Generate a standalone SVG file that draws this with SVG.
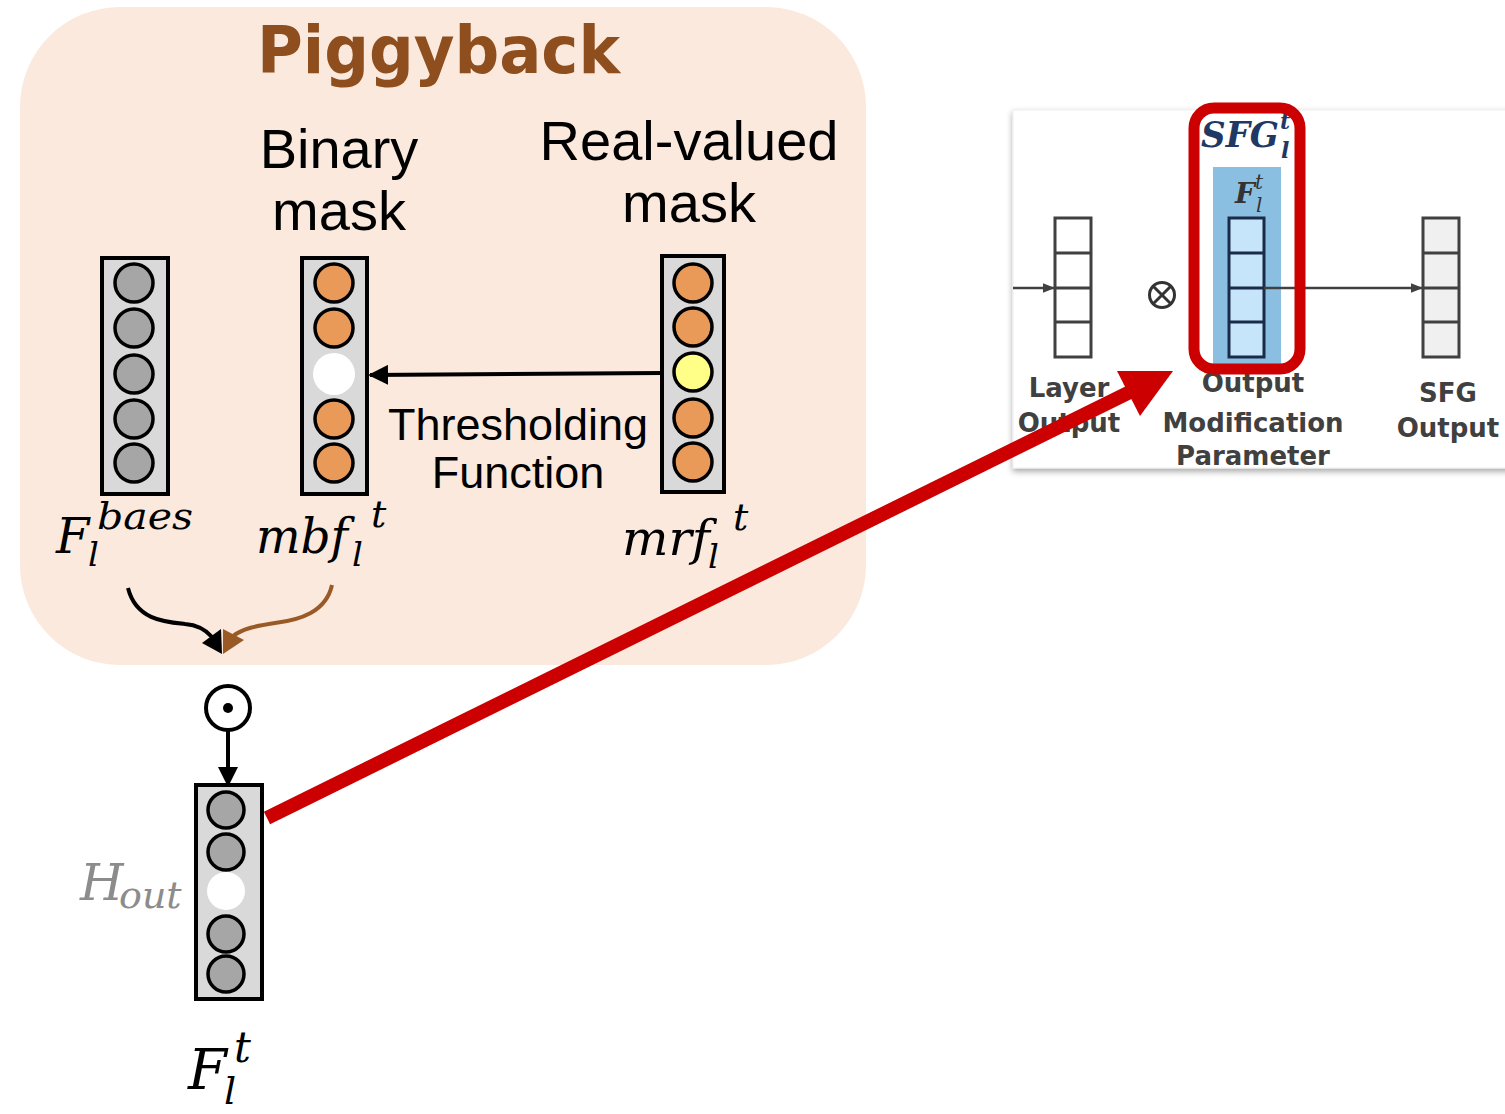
<svg xmlns="http://www.w3.org/2000/svg" width="1505" height="1114" viewBox="0 0 1505 1114">
<style>
.col{fill:#D9D9D9;stroke:#000;stroke-width:4}
.g{fill:#A6A6A6;stroke:#000;stroke-width:3.5}
.o{fill:#E99A58;stroke:#000;stroke-width:3.5}
.y{fill:#FFFF88;stroke:#000;stroke-width:3.5}
.w{fill:#FFFFFF}
.lbl{font-family:"Liberation Sans",Arial,sans-serif;fill:#000}
.math{font-family:"DejaVu Serif",serif;font-style:italic;fill:#000}
.pl{font-family:"DejaVu Sans",Verdana,sans-serif;font-weight:bold;fill:#404040;font-size:26px;text-anchor:middle}
.cell{fill:none;stroke:#404040;stroke-width:3}
.ncell{fill:none;stroke:#1A2B4A;stroke-width:3}
.sfg{font-family:"DejaVu Serif",serif;font-style:italic;font-weight:bold;fill:#1F3864}
.fi{font-family:"DejaVu Serif",serif;font-style:italic;fill:#333}
</style>
<defs>
<marker id="ahB" viewBox="0 0 10 10" refX="9" refY="5" markerWidth="20" markerHeight="20" markerUnits="userSpaceOnUse" orient="auto"><path d="M0,0 L10,5 L0,10 z" fill="#000"/></marker>
<marker id="ahS" viewBox="0 0 10 10" refX="10" refY="5" markerWidth="12" markerHeight="12" markerUnits="userSpaceOnUse" orient="auto"><path d="M0,1 L10,5 L0,9 z" fill="#404040"/></marker>
<filter id="sh" x="-5%" y="-5%" width="110%" height="115%"><feDropShadow dx="0" dy="3" stdDeviation="3" flood-color="#000" flood-opacity="0.35"/></filter>
</defs>

<g id="piggyback">
<rect x="20" y="7" width="846" height="658" rx="100" ry="100" fill="#FAE9DC"/>
<text x="257" y="73" font-family="'DejaVu Sans',Verdana,sans-serif" font-weight="bold" font-size="66" fill="#8E4E1E" textLength="363" lengthAdjust="spacingAndGlyphs">Piggyback</text>
<text class="lbl" x="339" y="168" font-size="56" text-anchor="middle">Binary</text>
<text class="lbl" x="339" y="230" font-size="56" text-anchor="middle">mask</text>
<text class="lbl" x="689" y="160" font-size="56" text-anchor="middle">Real-valued</text>
<text class="lbl" x="689" y="222" font-size="56" text-anchor="middle">mask</text>
<text class="lbl" x="518" y="440" font-size="45" text-anchor="middle">Thresholding</text>
<text class="lbl" x="518" y="488" font-size="45" text-anchor="middle">Function</text>
</g>

<g id="base-col">
<rect class="col" x="102" y="258" width="66" height="236"/>
<circle class="g" cx="134" cy="283" r="19"/>
<circle class="g" cx="134" cy="328" r="19"/>
<circle class="g" cx="134" cy="374" r="19"/>
<circle class="g" cx="134" cy="419" r="19"/>
<circle class="g" cx="134" cy="463" r="19"/>
<text class="math" x="56" y="553" font-size="48">F</text>
<text class="math" x="88" y="566" font-size="34">l</text>
<text class="math" x="97" y="529" font-size="38" textLength="96" lengthAdjust="spacingAndGlyphs">baes</text>
</g>

<g id="binary-col">
<rect class="col" x="302" y="258" width="65" height="236"/>
<circle class="o" cx="334" cy="283" r="19"/>
<circle class="o" cx="334" cy="328" r="19"/>
<circle class="w" cx="334" cy="374" r="21"/>
<circle class="o" cx="334" cy="419" r="19"/>
<circle class="o" cx="334" cy="463" r="19"/>
<text class="math" x="256" y="553" font-size="48" textLength="92" lengthAdjust="spacingAndGlyphs">mbf</text>
<text class="math" x="352" y="566" font-size="34">l</text>
<text class="math" x="371" y="527" font-size="38">t</text>
</g>

<g id="real-col">
<rect class="col" x="662" y="256" width="62" height="236"/>
<circle class="o" cx="693" cy="283" r="19"/>
<circle class="o" cx="693" cy="327" r="19"/>
<circle class="y" cx="693" cy="372" r="19"/>
<circle class="o" cx="693" cy="418" r="19"/>
<circle class="o" cx="693" cy="462" r="19"/>
<text class="math" x="622" y="555" font-size="48" textLength="88" lengthAdjust="spacingAndGlyphs">mrf</text>
<text class="math" x="708" y="568" font-size="34">l</text>
<text class="math" x="733" y="530" font-size="38">t</text>
</g>

<g id="odot">
<circle cx="228" cy="708" r="22" fill="#fff" stroke="#000" stroke-width="4"/>
<circle cx="228" cy="708" r="5" fill="#000"/>
</g>

<g id="out-col">
<rect class="col" x="196" y="785" width="66" height="214"/>
<circle class="g" cx="226" cy="810" r="18"/>
<circle class="g" cx="226" cy="852" r="18"/>
<circle class="w" cx="226" cy="891" r="19"/>
<circle class="g" cx="226" cy="934" r="18"/>
<circle class="g" cx="226" cy="974" r="18"/>
<text class="math" x="80" y="900" font-size="50" style="fill:#8C8C8C">H</text>
<text class="math" x="119" y="908" font-size="38" style="fill:#8C8C8C">out</text>
<text class="math" x="188" y="1089" font-size="56">F</text>
<text class="math" x="224" y="1104" font-size="38">l</text>
<text class="math" x="234" y="1062" font-size="42">t</text>
</g>

<g id="sfg-panel">
<rect x="1013" y="110" width="500" height="358" fill="#fff" stroke="#EEEEEE" stroke-width="1" filter="url(#sh)"/>
</g>
<g id="layer-output">
<rect x="1055" y="218" width="36" height="139" fill="#fff" stroke="#404040" stroke-width="3"/>
<line class="cell" x1="1055" y1="253" x2="1091" y2="253"/>
<line class="cell" x1="1055" y1="288" x2="1091" y2="288"/>
<line class="cell" x1="1055" y1="322" x2="1091" y2="322"/>
<text class="pl" x="1069" y="397">Layer</text>
<text class="pl" x="1069" y="432">Output</text>
</g>
<g id="otimes">
<circle cx="1162" cy="295" r="12.5" fill="none" stroke="#333" stroke-width="3"/>
<line x1="1153" y1="286" x2="1171" y2="304" stroke="#333" stroke-width="3"/>
<line x1="1171" y1="286" x2="1153" y2="304" stroke="#333" stroke-width="3"/>
</g>
<g id="omp">
<rect x="1213" y="167" width="68" height="202" fill="#8BBFE2"/>
<rect x="1229" y="218" width="35" height="139" fill="#C6E4FA" stroke="#1A2B4A" stroke-width="3"/>
<line class="ncell" x1="1229" y1="253" x2="1264" y2="253"/>
<line class="ncell" x1="1229" y1="288" x2="1264" y2="288"/>
<line class="ncell" x1="1229" y1="322" x2="1264" y2="322"/>
<text class="fi" x="1235" y="203" font-weight="bold" font-size="28">F</text>
<text class="fi" x="1255" y="189" font-size="20">t</text>
<text class="fi" x="1256" y="212" font-size="20">l</text>
<text class="pl" x="1253" y="392">Output</text>
<text class="pl" x="1253" y="432">Modification</text>
<text class="pl" x="1253" y="465">Parameter</text>
<text class="sfg" x="1201" y="147" font-size="36" textLength="78" lengthAdjust="spacingAndGlyphs">SFG</text>
<text class="sfg" x="1280" y="129" font-size="22">t</text>
<text class="sfg" x="1281" y="158" font-size="22">l</text>
</g>
<g id="sfg-output">
<rect x="1423" y="218" width="36" height="139" fill="#F0F0F0" stroke="#404040" stroke-width="3"/>
<line class="cell" x1="1423" y1="253" x2="1459" y2="253"/>
<line class="cell" x1="1423" y1="288" x2="1459" y2="288"/>
<line class="cell" x1="1423" y1="322" x2="1459" y2="322"/>
<text class="pl" x="1448" y="402">SFG</text>
<text class="pl" x="1448" y="437">Output</text>
</g>

<g id="connectors">
<line x1="662" y1="373" x2="370" y2="375" stroke="#000" stroke-width="4" marker-end="url(#ahB)"/>
<path d="M128,588 C136,620 165,622 185,624 C198,625 206,630 212,637" fill="none" stroke="#000" stroke-width="4"/>
<polygon points="202,643 221,629 222,654" fill="#000"/>
<path d="M332,585 C326,612 300,620 275,623 C255,626 242,629 233,636" fill="none" stroke="#9A5A26" stroke-width="4"/>
<polygon points="223,629 244,640 223,654" fill="#9A5A26"/>
<line x1="228" y1="731" x2="228" y2="785" stroke="#000" stroke-width="4" marker-end="url(#ahB)"/>
<line x1="1013" y1="288" x2="1055" y2="288" stroke="#404040" stroke-width="2.5" marker-end="url(#ahS)"/>
<line x1="1264" y1="288" x2="1423" y2="288" stroke="#404040" stroke-width="2.5" marker-end="url(#ahS)"/>
<rect x="1194" y="108" width="106" height="261" rx="20" ry="20" fill="none" stroke="#CC0000" stroke-width="11"/>
<line x1="267" y1="818" x2="1136" y2="389" stroke="#CC0000" stroke-width="14"/>
<polygon points="1173,371 1117,371 1140,416" fill="#CC0000"/>
</g>
</svg>
